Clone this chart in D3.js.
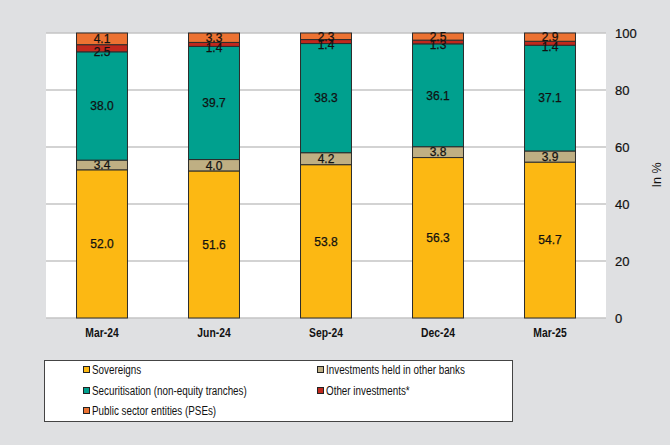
<!DOCTYPE html>
<meta charset="utf-8">
<style>
    body { margin: 0; background: #dfe0e2; }
    svg { display: block; font-family: "Liberation Sans", Arial, sans-serif; }
    .grid line { stroke: #c4c4c4; stroke-width: 1.5px; }
    .seg { stroke: #2b2b2b; stroke-width: 1px; }
</style>
<svg width="670" height="445"></svg>
<script src="https://cdn.jsdelivr.net/npm/d3@7"></script>
<script>
    // chart data
    var categories = ["Mar-24", "Jun-24", "Sep-24", "Dec-24", "Mar-25"];
    var seriesNames = ["Sovereigns", "Investments held in other banks", "Securitisation (non-equity tranches)", "Other investments*", "Public sector entities (PSEs)"];
    var sovereigns = [52.0, 51.6, 53.8, 56.3, 54.7];
    var otherBanks = [3.4, 4.0, 4.2, 3.8, 3.9];
    var securitisation = [38.0, 39.7, 38.3, 36.1, 37.1];
    var otherInv = [2.5, 1.4, 1.4, 1.3, 1.4];
    var pses = [4.1, 3.3, 2.3, 2.5, 2.9];
    var yTicks = [0, 20, 40, 60, 80, 100];

    var colors = ["#fcb813", "#bfaf83", "#00a08e", "#c1281d", "#ec7232"];
    var allSeries = [sovereigns, otherBanks, securitisation, otherInv, pses];

    var svg = d3.select("svg");
    var plot = {left: 46, right: 606, top: 33, bottom: 318};

    // white plot area
    svg.append("rect")
        .attr("x", plot.left).attr("y", plot.top)
        .attr("width", plot.right - plot.left).attr("height", plot.bottom - plot.top)
        .attr("fill", "#fff");

    var x = d3.scaleBand().domain(categories).range([plot.left, plot.right]).paddingInner(0.545).paddingOuter(0.2725);
    var y = d3.scaleLinear().domain([0, 100]).range([plot.bottom, plot.top]);

    // gridlines
    svg.append("g").attr("class", "grid")
        .selectAll("line").data(yTicks).enter().append("line")
        .attr("x1", plot.left).attr("x2", plot.right)
        .attr("y1", function (d) { return y(d); }).attr("y2", function (d) { return y(d); });

    // right axis labels
    var yAxis = d3.axisRight(y).tickValues(yTicks).tickSize(0).tickPadding(9);
    var ya = svg.append("g").attr("transform", "translate(" + plot.right + ",0)").call(yAxis);
    ya.select(".domain").remove();
    ya.selectAll("text").style("font-size", "13px").style("font-family", "Liberation Sans, Arial, sans-serif")
        .attr("fill", "#111").attr("stroke", "#111").attr("stroke-width", 0.2);

    svg.append("text")
        .attr("transform", "translate(661,175) rotate(-90)")
        .attr("text-anchor", "middle")
        .style("font-size", "12.5px")
        .attr("fill", "#111")
        .text("In %");

    // stacked data
    var rows = categories.map(function (c, i) {
        var r = {cat: c};
        seriesNames.forEach(function (s, k) { r[s] = allSeries[k][i]; });
        return r;
    });
    var stacked = d3.stack().keys(seriesNames)(rows);

    var layers = svg.append("g").selectAll("g").data(stacked).enter().append("g")
        .attr("fill", function (d, i) { return colors[i]; });

    layers.selectAll("rect").data(function (d) { return d; }).enter().append("rect")
        .attr("class", "seg")
        .attr("x", function (d) { return x(d.data.cat); })
        .attr("width", x.bandwidth())
        .attr("y", function (d) { return y(d[1]); })
        .attr("height", function (d) { return y(d[0]) - y(d[1]); });

    // value labels
    layers.each(function (layer, li) {
        d3.select(this).selectAll("text").data(layer).enter().append("text")
            .attr("x", function (d) { return x(d.data.cat) + x.bandwidth() / 2; })
            .attr("y", function (d) { return (y(d[0]) + y(d[1])) / 2 + (li === 3 ? 3 : 0); })
            .attr("dy", "0.36em")
            .attr("text-anchor", "middle")
            .attr("fill", "#111").attr("stroke", "#111").attr("stroke-width", 0.25)
            .style("font-size", "12px")
            .text(function (d) { return (d[1] - d[0]).toFixed(1); });
    });

    // category labels
    var xa = svg.append("g").attr("transform", "translate(0," + plot.bottom + ")")
        .call(d3.axisBottom(x).tickSize(0).tickPadding(10));
    xa.select(".domain").remove();
    xa.selectAll("text")
        .style("font-size", "12px").style("font-weight", "bold").attr("fill", "#111")
        .attr("textLength", function () { return this.getComputedTextLength() * 0.86; })
        .attr("lengthAdjust", "spacingAndGlyphs");

    // legend
    var legend = svg.append("g");
    legend.append("rect")
        .attr("x", 44.5).attr("y", 360.5).attr("width", 468).attr("height", 61)
        .attr("fill", "#fff").attr("stroke", "#444").attr("stroke-width", 1);
    var legPos = [[83, 370], [317, 370], [83, 391], [317, 391], [83, 411]];
    seriesNames.forEach(function (s, i) {
        var g = legend.append("g").attr("transform", "translate(" + legPos[i][0] + "," + legPos[i][1] + ")");
        g.append("rect").attr("x", 0.5).attr("y", -3.5).attr("width", 6).attr("height", 6)
            .attr("fill", colors[i]).attr("stroke", "#222").attr("stroke-width", 1);
        g.append("text").attr("x", 9).attr("dy", "0.35em")
            .style("font-size", "12px").attr("fill", "#111").text(s)
            .attr("textLength", function () { return this.getComputedTextLength() * 0.82; })
            .attr("lengthAdjust", "spacingAndGlyphs");
    });
</script>
